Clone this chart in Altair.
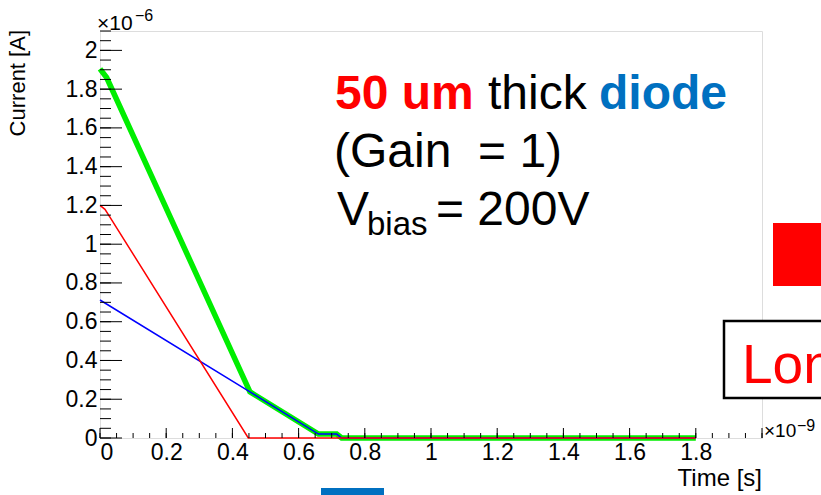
import altair as alt
import pandas as pd

FONT = "Liberation Sans"

# ---- data (time in 1e-9 s, current in 1e-6 A) ----
green_t = [0.0, 0.02, 0.453, 0.66, 0.715, 0.73, 1.8]
green_i = [1.905, 1.86, 0.238, 0.02, 0.02, 0.0, 0.0]
blue_t = [0.0, 0.453, 0.66, 0.715, 0.73, 1.8]
blue_i = [0.712, 0.238, 0.02, 0.02, 0.0, 0.0]
red_t = [0.0, 0.015, 0.03, 0.448, 1.8]
red_i = [1.2, 1.18, 1.14, 0.0, 0.0]

x_major = [round(0.2 * k, 2) for k in range(11)]
x_minor = [round(0.05 * k, 2) for k in range(41)]
y_major = [round(0.2 * k, 2) for k in range(11)]
y_minor = [round(0.05 * k, 2) for k in range(43)]
x_labels = [round(0.2 * k, 2) for k in range(10)]
y_labels = [round(0.2 * k, 2) for k in range(11)]

W, H = 662, 407
xs = alt.Scale(domain=[0, 2], nice=False, zero=False)
ys = alt.Scale(domain=[0, 2.1], nice=False, zero=False)

x_axis = alt.Axis(values=x_labels, format="~g", grid=False, ticks=False, domain=False,
                  labelFontSize=23, labelFont=FONT, labelColor="black",
                  labelPadding=3, title=None)
y_axis = alt.Axis(values=y_labels, format="~g", grid=False, ticks=False, domain=False,
                  labelFontSize=23, labelFont=FONT, labelColor="black",
                  labelPadding=3, title=None)

def series(t, i, color, width):
    df = pd.DataFrame({"t": t, "i": i})
    return alt.Chart(df).mark_line(color=color, strokeWidth=width, clip=False).encode(
        x=alt.X("t:Q", scale=xs, axis=x_axis),
        y=alt.Y("i:Q", scale=ys, axis=y_axis),
        order=alt.Order("t:Q"),
    )

green = series(green_t, green_i, "#00ee00", 5.5)
blue = series(blue_t, blue_i, "#0000ff", 1.5)
red = series(red_t, red_i, "#ff0000", 1.5)

# tick marks (inside the frame, as in ROOT)
yt_major = alt.Chart(pd.DataFrame({"v": y_major})).mark_rule(color="black", strokeWidth=1).encode(
    y=alt.Y("v:Q", scale=ys, axis=y_axis), x=alt.value(0), x2=alt.value(22))
yt_minor = alt.Chart(pd.DataFrame({"v": y_minor})).mark_rule(color="black", strokeWidth=1).encode(
    y=alt.Y("v:Q", scale=ys, axis=y_axis), x=alt.value(0), x2=alt.value(11))
xt_major = alt.Chart(pd.DataFrame({"v": x_major})).mark_rule(color="black", strokeWidth=1).encode(
    x=alt.X("v:Q", scale=xs, axis=x_axis), y=alt.value(H), y2=alt.value(H - 10))
xt_minor = alt.Chart(pd.DataFrame({"v": x_minor})).mark_rule(color="black", strokeWidth=1).encode(
    x=alt.X("v:Q", scale=xs, axis=x_axis), y=alt.value(H), y2=alt.value(H - 5))

def txt(s, x, y, size, color="black", weight="normal", align="left", baseline="alphabetic", angle=0):
    kw = dict(font=FONT, fontSize=size, color=color, fontWeight=weight, align=align, baseline=baseline)
    if angle:
        kw["angle"] = angle
    return alt.Chart(pd.DataFrame({"s": [s]})).mark_text(**kw).encode(
        text="s:N", x=alt.value(x), y=alt.value(y))

def rect(x, x2, y, y2, fill, stroke=None, sw=0):
    kw = dict(fill=fill)
    if stroke:
        kw.update(stroke=stroke, strokeWidth=sw)
    return alt.Chart(pd.DataFrame({"a": [0]})).mark_rect(**kw).encode(
        x=alt.value(x), x2=alt.value(x2), y=alt.value(y), y2=alt.value(y2))

texts = [
    txt("50 um", 235, 78, 48, "#ff0000", "bold"),
    txt("thick", 388, 78, 48),
    txt("diode", 499, 78, 48, "#0070c0", "bold"),
    txt("(Gain\u00a0 = 1)", 234, 136, 48),
    txt("V", 237, 194, 48),
    txt("bias", 267, 204, 33),
    txt("= 200V", 336, 194, 48),
    txt("\u00d710", -3, -1, 21),
    txt("\u22126", 35, -10, 16),
    txt("\u00d710", 664, 406, 19),
    txt("\u22129", 697, 400, 16),
    txt("Time [s]", 662, 455, 24, align="right"),
    txt("Current [A]", -75, -1, 22, align="right", angle=270),
]

shapes = [
    rect(673, 740, 192, 255, "#ff0000"),
    rect(624, 740, 290, 367, "white", "black", 2.5),
    rect(221, 284, 457, 470, "#0070c0"),
]
lon = txt("Lon", 642, 352, 55, "#ff0000")

chart = alt.layer(
    green, blue, red, yt_minor, yt_major, xt_minor, xt_major, *shapes, lon, *texts
).properties(
    width=W, height=H,
    autosize=alt.AutoSizeParams(type="none"),
    padding={"left": 100, "top": 31, "right": 59, "bottom": 57},
).configure_view(stroke="#222222", strokeWidth=1.5).configure_axis(
    labelFontSize=23, labelFont=FONT, labelColor="black"
).configure(background="white")

chart.save("out.html", embed_options={"renderer": "svg", "actions": False})
